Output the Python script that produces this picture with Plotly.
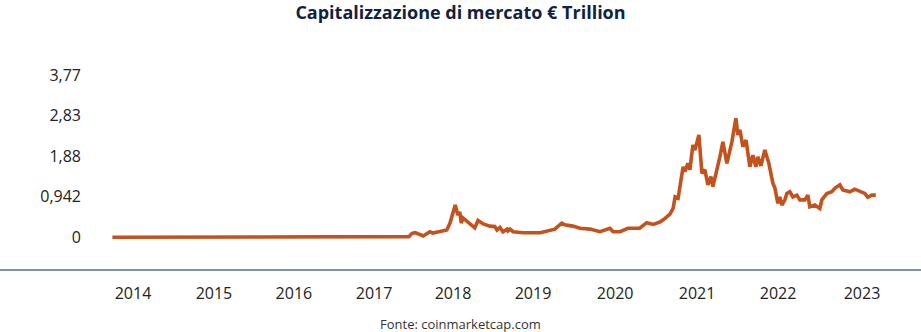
import plotly.graph_objects as go

# ---- data ----
dates = [
    "2013-04-28", "2013-10-01", "2014-06-01", "2015-01-01", "2015-09-01", "2016-06-01",
    "2017-01-01", "2017-05-20",
    "2017-06-05", "2017-06-21", "2017-07-31", "2017-09-02", "2017-09-17", "2017-10-24",
    "2017-11-26", "2017-12-12", "2017-12-21", "2018-01-07", "2018-01-13", "2018-01-20",
    "2018-01-30", "2018-02-06", "2018-02-14", "2018-03-10", "2018-04-15", "2018-05-01",
    "2018-05-27", "2018-06-29", "2018-07-24", "2018-08-04", "2018-08-19", "2018-09-03",
    "2018-09-24", "2018-09-28", "2018-10-08", "2018-10-24", "2018-12-13", "2019-03-08",
    "2019-04-10", "2019-05-20", "2019-06-24", "2019-07-09", "2019-08-18", "2019-09-24",
    "2019-11-12", "2020-01-01", "2020-02-20", "2020-03-07", "2020-04-10", "2020-05-20",
    "2020-07-18", "2020-08-22", "2020-09-24", "2020-10-28", "2020-11-22", "2020-12-16",
    "2021-01-01", "2021-01-11", "2021-01-26", "2021-02-15", "2021-02-20", "2021-03-01",
    "2021-03-16", "2021-03-26", "2021-04-10", "2021-04-20", "2021-05-10", "2021-05-25",
    "2021-06-09", "2021-06-24", "2021-07-09", "2021-07-19", "2021-08-08", "2021-08-23",
    "2021-09-07", "2021-09-27", "2021-10-22", "2021-11-11", "2021-11-21", "2021-12-01",
    "2021-12-16", "2022-01-01", "2022-01-20", "2022-02-04", "2022-02-19", "2022-03-01",
    "2022-03-16", "2022-04-05", "2022-04-25", "2022-05-15", "2022-05-25", "2022-06-09",
    "2022-06-19", "2022-06-29", "2022-07-14", "2022-07-24", "2022-08-08", "2022-08-23",
    "2022-09-12", "2022-09-27", "2022-10-22", "2022-11-06", "2022-11-16", "2022-12-11",
    "2023-01-05", "2023-01-15", "2023-02-09", "2023-03-06", "2023-03-21", "2023-04-15",
    "2023-04-30", "2023-06-04", "2023-06-29", "2023-07-24", "2023-08-18", "2023-09-02",
    "2023-09-22", "2023-10-12",
]
market_cap = [
    0.0015, 0.002, 0.006, 0.004, 0.004, 0.007,
    0.012, 0.015,
    0.093, 0.107, 0.03, 0.13, 0.10, 0.13,
    0.17, 0.33, 0.48, 0.75, 0.64, 0.52,
    0.59, 0.33, 0.45, 0.36, 0.22, 0.39,
    0.31, 0.26, 0.25, 0.17, 0.23, 0.13,
    0.19, 0.15, 0.19, 0.13, 0.107, 0.107,
    0.15, 0.19, 0.33, 0.29, 0.26, 0.21,
    0.19, 0.13, 0.21, 0.13, 0.13, 0.21,
    0.21, 0.34, 0.30, 0.36, 0.44, 0.54,
    0.67, 0.94, 0.91, 1.49, 1.64, 1.53,
    1.72, 1.57, 2.15, 2.03, 2.38, 1.49,
    1.57, 1.22, 1.41, 1.18, 1.53, 1.87,
    2.22, 1.72, 2.22, 2.77, 2.38, 2.50,
    2.11, 2.26, 1.64, 1.91, 1.64, 1.87,
    1.66, 2.03, 1.72, 1.26, 1.15, 0.79,
    0.94, 0.75, 0.87, 1.02, 1.06, 0.94,
    0.98, 0.87, 0.87, 0.98, 0.71, 0.75,
    0.67, 0.87, 1.02, 1.06, 1.14, 1.22,
    1.10, 1.06, 1.12, 1.06, 1.02, 0.93,
    0.98, 0.98,
]

y_tick_vals = [0, 0.942, 1.884, 2.826, 3.768]
y_tick_text = ["0", "0,942", "1,88", "2,83", "3,77"]

x_tick_vals = ["2013-08-09", "2014-09-18", "2015-10-23", "2016-11-27", "2017-12-27",
               "2019-01-31", "2020-03-17", "2021-05-01", "2022-06-10", "2023-08-04"]
x_tick_text = ["2014", "2015", "2016", "2017", "2018",
               "2019", "2020", "2021", "2022", "2023"]

FONT = "Open Sans"

fig = go.Figure()
fig.add_trace(go.Scatter(
    x=dates, y=market_cap, mode="lines",
    line=dict(color="#C4521D", width=3.6),
    hoverinfo="skip", showlegend=False,
))

fig.update_layout(
    width=921, height=332,
    margin=dict(l=90, r=21, t=40, b=62),
    paper_bgcolor="white", plot_bgcolor="white",
    font=dict(family=FONT, color="#222222"),
    title=dict(
        text="<b>Capitalizzazione di mercato € Trillion</b>",
        x=0.5, xanchor="center", xref="container",
        y=1 - 6 / 332, yanchor="top", yref="container",
        font=dict(family=FONT, size=18, color="#10223F"),
    ),
    xaxis=dict(
        type="date",
        range=["2013-01-06", "2024-02-10"],
        tickvals=x_tick_vals, ticktext=x_tick_text,
        showgrid=False, zeroline=False, showline=False, ticks="",
        tickfont=dict(family=FONT, size=16, color="#222222"),
        ticklabelstandoff=12,
    ),
    yaxis=dict(
        range=[-0.7606, 4.589],
        tickvals=y_tick_vals, ticktext=y_tick_text,
        showgrid=False, zeroline=False, showline=False, ticks="",
        tickfont=dict(family=FONT, size=16, color="#222222"),
        ticklabelstandoff=8,
    ),
    shapes=[dict(
        type="line", xref="paper", yref="paper",
        x0=-90 / 810, x1=1 + 21 / 810, y0=0, y1=0,
        line=dict(color="#7D94AA", width=1.8),
    )],
    annotations=[dict(
        text="Fonte: coinmarketcap.com",
        xref="paper", yref="paper",
        x=(460 - 90) / 810, y=(270 - 324) / 230,
        xanchor="center", yanchor="middle", showarrow=False,
        font=dict(family=FONT, size=13, color="#333333"),
    )],
)

fig.write_html("out.html")
